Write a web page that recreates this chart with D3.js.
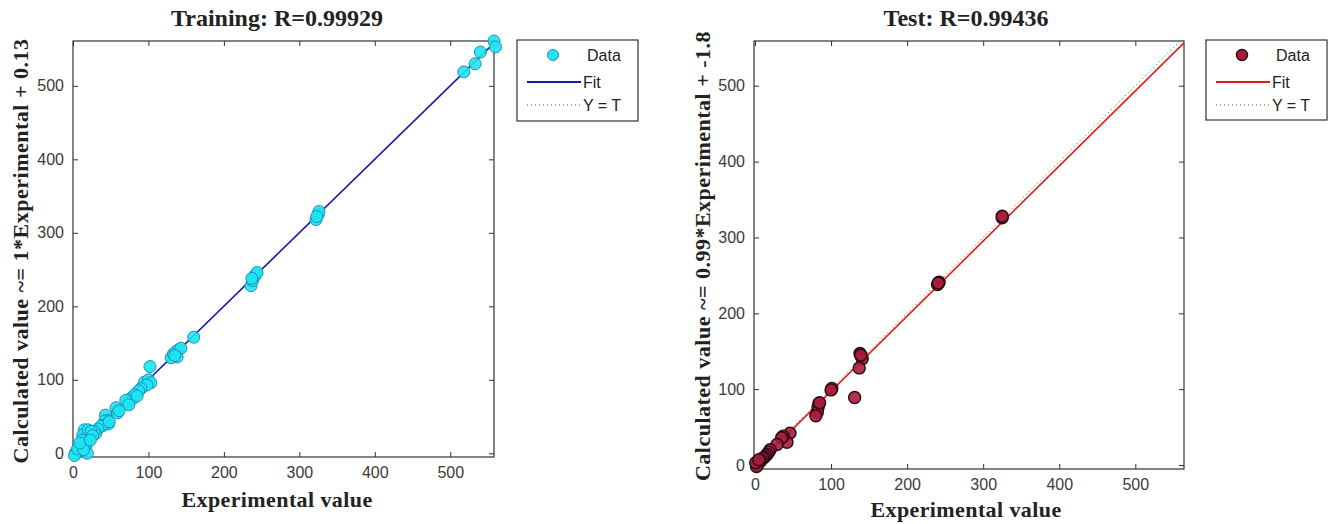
<!DOCTYPE html>
<html><head><meta charset="utf-8">
<script src="https://cdn.jsdelivr.net/npm/d3@7"></script>
<style>body{margin:0;background:#fff}svg{display:block}</style>
</head><body>
<svg id="c" width="1331" height="524"></svg>
<script>
// ---- data ----
const ticks = [0, 100, 200, 300, 400, 500];
const trainTitle = "Training: R=0.99929";
const testTitle = "Test: R=0.99436";
const trainYLabel = "Calculated value ~= 1*Experimental + 0.13";
const testYLabel = "Calculated value ~= 0.99*Experimental + -1.8";
const xLabel = "Experimental value";
const legendLabels = ["Data", "Fit", "Y = T"];
const trainFit = [1, 0.13];
const testFit = [0.99, -1.8];
const trainExp = [558,560,540,533,518, 322,325,326,323, 236,238,240,242,244,237, 160,
  130,133,136,140,143,138,135, 102, 92,95,100,103,98,90,87,
  72,75,78,80,82,85,70,74, 57,59,61, 43,45,47,42,40,37,48,
  33,30,28,25,22,20,18,15,13,16,11,10,8,5,3,2,6,12,17,19,14,9,20,24,26,23];
const trainCalc = [561,553,546,530,519, 318,325,329,322, 228,235,240,243,246,238, 158,
  130,135,138,141,143,131,133, 118, 90,97,100,96,93,88,85,
  68,73,76,75,80,78,72,66, 62,55,58, 52,45,40,44,38,37,43,
  33,27,30,25,28,20,22,32,25,15,12,8,5,3,0,-3,6,18,10,0,5,14,32,30,24,18];
const testExp = [325,325, 240,242,241, 138,140,141,137,139, 131, 101,100,
  84,83,82,80,85, 46,42,37,35,29, 20,18,16,14,12,10,8,6,4,3,2,1,5];
const testCalc = [326,328, 238,241,240, 147,143,140,128,145, 89, 101,99,
  81,76,70,65,82, 42,30,38,36,27, 20,17,14,12,10,9,6,4,2,0,-2,3,7];
const trainDomainX = [0, 558], trainDomainY = [-5, 561];
const testDomainX = [-1.3, 564], testDomainY = [-5.3, 559];

const svg = d3.select("#c");
const serif = "'Liberation Serif','Times New Roman',serif";
const sans = "'Liberation Sans',Arial,sans-serif";

function panel(o) {
  const x = d3.scaleLinear().domain(o.dx).range([o.l, o.r]);
  const y = d3.scaleLinear().domain(o.dy).range([o.b, o.t]);
  const g = svg.append("g");
  const cid = "clip" + o.id;
  svg.append("clipPath").attr("id", cid).append("rect")
    .attr("x", o.l).attr("y", o.t).attr("width", o.r - o.l).attr("height", o.b - o.t);
  const tl = 5;
  const axB = d3.axisBottom(x).tickValues(ticks).tickSize(-tl).tickPadding(tl + 5);
  const axT = d3.axisTop(x).tickValues(ticks).tickSize(-tl).tickFormat("");
  const axL = d3.axisLeft(y).tickValues(ticks).tickSize(-tl).tickPadding(tl + 4);
  const axR = d3.axisRight(y).tickValues(ticks).tickSize(-tl).tickFormat("");
  const styleAx = s => { s.select(".domain").remove(); s.selectAll("line").attr("stroke", "#333");
    s.selectAll("text").attr("font-family", sans).attr("font-size", 16).attr("fill", "#3a3a3a"); };
  g.append("g").attr("transform", `translate(0,${o.b})`).call(axB).call(styleAx);
  g.append("g").attr("transform", `translate(0,${o.t})`).call(axT).call(styleAx);
  g.append("g").attr("transform", `translate(${o.l},0)`).call(axL).call(styleAx);
  g.append("g").attr("transform", `translate(${o.r},0)`).call(axR).call(styleAx);
  g.append("rect").attr("x", o.l).attr("y", o.t).attr("width", o.r - o.l).attr("height", o.b - o.t)
    .attr("fill", "none").attr("stroke", "#333").attr("stroke-width", 1.2);

  const inner = g.append("g").attr("clip-path", `url(#${cid})`);
  const lo = Math.max(o.dx[0], o.dy[0]), hi = Math.min(o.dx[1], o.dy[1]) + 5;
  inner.append("line").attr("x1", x(lo)).attr("y1", y(lo)).attr("x2", x(hi)).attr("y2", y(hi))
    .attr("stroke", "#555").attr("stroke-width", 1).attr("stroke-dasharray", "1,3");
  const xmin = d3.min(o.ex), xmax = o.dx[1];
  inner.append("line").attr("x1", x(xmin)).attr("y1", y(o.fit[0] * xmin + o.fit[1]))
    .attr("x2", x(xmax)).attr("y2", y(o.fit[0] * xmax + o.fit[1]))
    .attr("stroke", o.lineColor).attr("stroke-width", 1.6);
  const pts = o.ex.map((v, i) => [v, o.cy[i]]);
  g.append("g").selectAll("circle").data(pts).join("circle")
    .attr("cx", d => x(d[0])).attr("cy", d => y(d[1])).attr("r", 6)
    .attr("fill", o.fill).attr("stroke", o.edge).attr("stroke-width", o.ew).attr("fill-opacity", 0.9);
  const cx = (o.l + o.r) / 2;
  svg.append("text").attr("x", o.tx).attr("y", 26).attr("text-anchor", "middle")
    .attr("font-family", serif).attr("font-weight", "bold").attr("font-size", 24).attr("fill", "#222")
    .text(o.title);
  svg.append("text").attr("x", o.tx).attr("y", o.xly).attr("text-anchor", "middle")
    .attr("font-family", serif).attr("font-weight", "bold").attr("font-size", 22).attr("fill", "#222")
    .attr("letter-spacing", 0.4).text(xLabel);
  svg.append("text").attr("transform", `translate(${o.ylx},${o.ylc}) rotate(-90)`)
    .attr("text-anchor", "middle")
    .attr("font-family", serif).attr("font-weight", "bold").attr("font-size", 22).attr("fill", "#222")
    .attr("letter-spacing", 0.5).text(o.ylabel);
  const L = o.leg;
  svg.append("rect").attr("x", L.x).attr("y", L.y).attr("width", L.w).attr("height", L.h)
    .attr("fill", "#fff").attr("stroke", "#333").attr("stroke-width", 1.2);
  const rows = [L.y + 15, L.y + 42, L.y + 65];
  svg.append("circle").attr("cx", L.x + 36).attr("cy", rows[0]).attr("r", 5.5)
    .attr("fill", o.fill).attr("stroke", o.edge).attr("stroke-width", o.ew);
  svg.append("line").attr("x1", L.x + 10).attr("x2", L.x + 64).attr("y1", rows[1]).attr("y2", rows[1])
    .attr("stroke", o.lineColor).attr("stroke-width", 2.2);
  svg.append("line").attr("x1", L.x + 10).attr("x2", L.x + 64).attr("y1", rows[2]).attr("y2", rows[2])
    .attr("stroke", "#555").attr("stroke-width", 1).attr("stroke-dasharray", "1,3");
  legendLabels.forEach((t, i) => svg.append("text").attr("x", L.x + (i === 0 ? 70 : 66)).attr("y", rows[i] + 6)
    .attr("font-family", sans).attr("font-size", 16).attr("fill", "#222").text(t));
}

panel({id: "a", l: 73, r: 494, t: 41, b: 457, dx: trainDomainX, dy: trainDomainY,
  ex: trainExp, cy: trainCalc, fit: trainFit, fill: "#1ee6f0", edge: "#1d8fc6", ew: 1, lineColor: "#1a1aa8",
  title: trainTitle, ylabel: trainYLabel, tx: 277, xly: 507, ylx: 28, ylc: 251, leg: {x: 517, y: 40, w: 121, h: 81}});
panel({id: "b", l: 754, r: 1184, t: 41, b: 469, dx: testDomainX, dy: testDomainY,
  ex: testExp, cy: testCalc, fit: testFit, fill: "#a81d3d", edge: "#2a0a12", ew: 1.4, lineColor: "#e01a1a",
  title: testTitle, ylabel: testYLabel, tx: 966, xly: 517, ylx: 710, ylc: 256, leg: {x: 1206, y: 40, w: 121, h: 80}});
</script>
</body></html>
